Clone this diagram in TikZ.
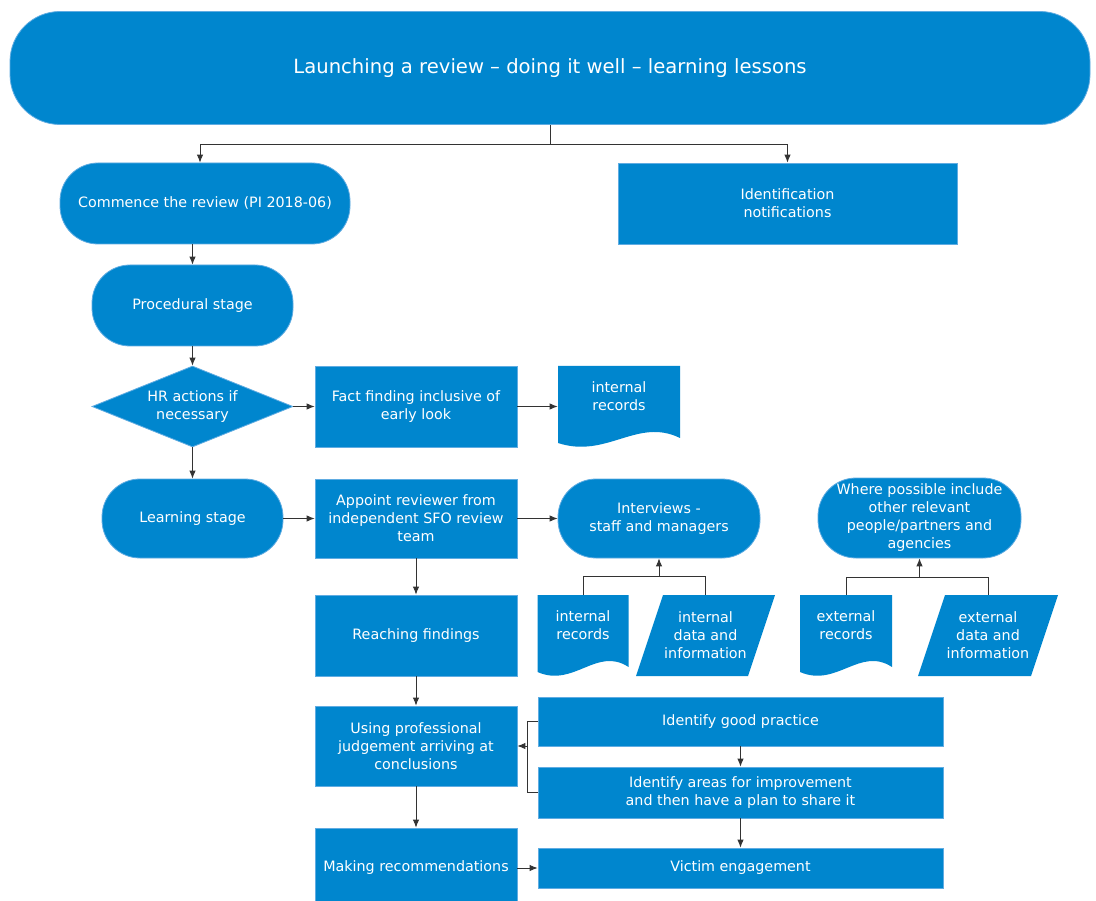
\documentclass[tikz,border=0pt]{standalone}
\usepackage{fontspec}
\setmainfont{DejaVu Sans}
\usetikzlibrary{arrows.meta,calc,shapes.geometric}

\definecolor{sfoblue}{RGB}{0,134,206}
\definecolor{sfoedge}{RGB}{96,172,226}

\newcommand{\doclines}[1]{\begin{tabular}[b]{@{}c@{}}#1\end{tabular}}

\begin{document}
\begin{tikzpicture}[x=1pt,y=-1pt,
  box/.style={draw=sfoedge, line width=0.8pt, fill=sfoblue, text=white, align=center,
    inner sep=2pt, font=\fontsize{14.3}{18}\selectfont},
  proc/.style={box, rectangle, minimum width=202, minimum height=81},
  term/.style={box, rectangle, rounded corners=38, minimum width=201, minimum height=81},
  decision/.style={box, diamond, aspect=2.5, inner sep=0pt, minimum width=201, minimum height=81},
  doc/.style={box, draw=none, fill=none, text depth=23.5pt, minimum height=81,
    path picture={\fill[sfoblue] (path picture bounding box.north west) -- (path picture bounding box.north east)
      -- ($(path picture bounding box.south east)+(0pt,9pt)$)
      .. controls ($(path picture bounding box.south west)!0.65!(path picture bounding box.south east)+(0pt,30pt)$)
      and ($(path picture bounding box.south west)!0.4!(path picture bounding box.south east)+(0pt,-12pt)$)
      .. ($(path picture bounding box.south west)+(0pt,4pt)$) -- cycle;}},
  data/.style={box, draw=none, fill=none, minimum height=81,
    path picture={\fill[sfoblue] (path picture bounding box.south west) -- ([xshift=-27pt]path picture bounding box.south east)
      -- (path picture bounding box.north east) -- ([xshift=27pt]path picture bounding box.north west) -- cycle;}},
  link/.style={draw=black!80, line width=0.9pt},
  arrow/.style={link, -{Latex[length=8pt,width=6.5pt]}}]

  \path[use as bounding box, fill=white] (0,0) rectangle (1096,901);

  % title
  \node[box, rounded corners=50, minimum width=1080, minimum height=113,
    font=\fontsize{19.6}{24}\selectfont] (launch) at (550,68)
    {Launching a review – doing it well – learning lessons};

  % left column
  \node[term, minimum width=290] (commence) at (205,203.5) {Commence the review (PI 2018-06)};
  \node[proc, minimum width=339] (ident) at (787.5,203.5) {Identification\\notifications};
  \node[term] (procedural) at (192.5,305.5) {Procedural stage};
  \node[decision] (hr) at (192.5,406.5) {HR actions if\\necessary};
  \node[term, minimum width=181, minimum height=79] (learning) at (192.5,518.5) {Learning stage};

  % middle column
  \node[proc] (fact) at (416,406.5) {Fact finding inclusive of\\early look};
  \node[proc, minimum height=79] (appoint) at (416,518.5) {Appoint reviewer from\\independent SFO review\\team};
  \node[proc] (reach) at (416,635.5) {Reaching findings};
  \node[proc, minimum height=80] (using) at (416,746) {Using professional\\judgement arriving at\\conclusions};
  \node[proc, minimum height=80] (making) at (416,868) {Making recommendations};

  % sources
  \node[doc, minimum width=122] (intrec) at (619,406.5) {\doclines{internal\\records}};
  \node[term, minimum width=202, minimum height=79] (interviews) at (659,518.5) {Interviews -\\staff and managers};
  \node[term, minimum width=203, minimum height=80] (where) at (919.5,518)
    {Where possible include\\other relevant\\people/partners and\\agencies};
  \node[doc, minimum width=91] (intrecb) at (583,635.5) {\doclines{internal\\records}};
  \node[data, minimum width=139] (intdata) at (705.5,635.5) {internal\\data and\\information};
  \node[doc, minimum width=92] (extrec) at (846,635.5) {\doclines{external\\records}};
  \node[data, minimum width=140] (extdata) at (988,635.5) {external\\data and\\information};

  % outcomes
  \node[proc, minimum width=405, minimum height=49] (good) at (740.5,721.5) {Identify good practice};
  \node[proc, minimum width=405, minimum height=51] (areas) at (740.5,792.5)
    {Identify areas for improvement\\and then have a plan to share it};
  \node[proc, minimum width=405, minimum height=40] (victim) at (740.5,868) {Victim engagement};

  % split from the title
  \draw[link] (launch.south) -- ++(0,20) coordinate (split);
  \draw[arrow] (split) -| ([xshift=-5pt]commence.north);
  \draw[arrow] (split) -| (ident.north);

  \draw[arrow] (commence.south -| procedural.north) -- (procedural.north);
  \draw[arrow] (procedural) -- (hr);
  \draw[arrow] (hr) -- (fact);
  \draw[arrow] (fact) -- (intrec);
  \draw[arrow] (hr) -- (learning);
  \draw[arrow] (learning) -- (appoint);
  \draw[arrow] (appoint) -- (interviews);
  \draw[arrow] (appoint) -- (reach);
  \draw[arrow] (reach) -- (using);
  \draw[arrow] (using) -- (making);
  \draw[arrow] (making) -- (victim);

  % records into the interviews
  \draw[link] (intrecb.north) -- ++(0,-18) coordinate (ibar) -| (intdata.north);
  \draw[arrow] (ibar -| interviews.south) -- (interviews.south);
  \draw[link] (extrec.north) -- ++(0,-17) coordinate (ebar) -| (extdata.north);
  \draw[arrow] (ebar -| where.south) -- (where.south);

  % findings back to the conclusions
  \draw[arrow] (good) -- (areas);
  \draw[arrow] (areas) -- (victim);
  \draw[link] (good.west) -- ++(-10,0) coordinate (gbar) |- (areas.west);
  \draw[arrow] (gbar |- using.east) -- (using.east);

\end{tikzpicture}
\end{document}
